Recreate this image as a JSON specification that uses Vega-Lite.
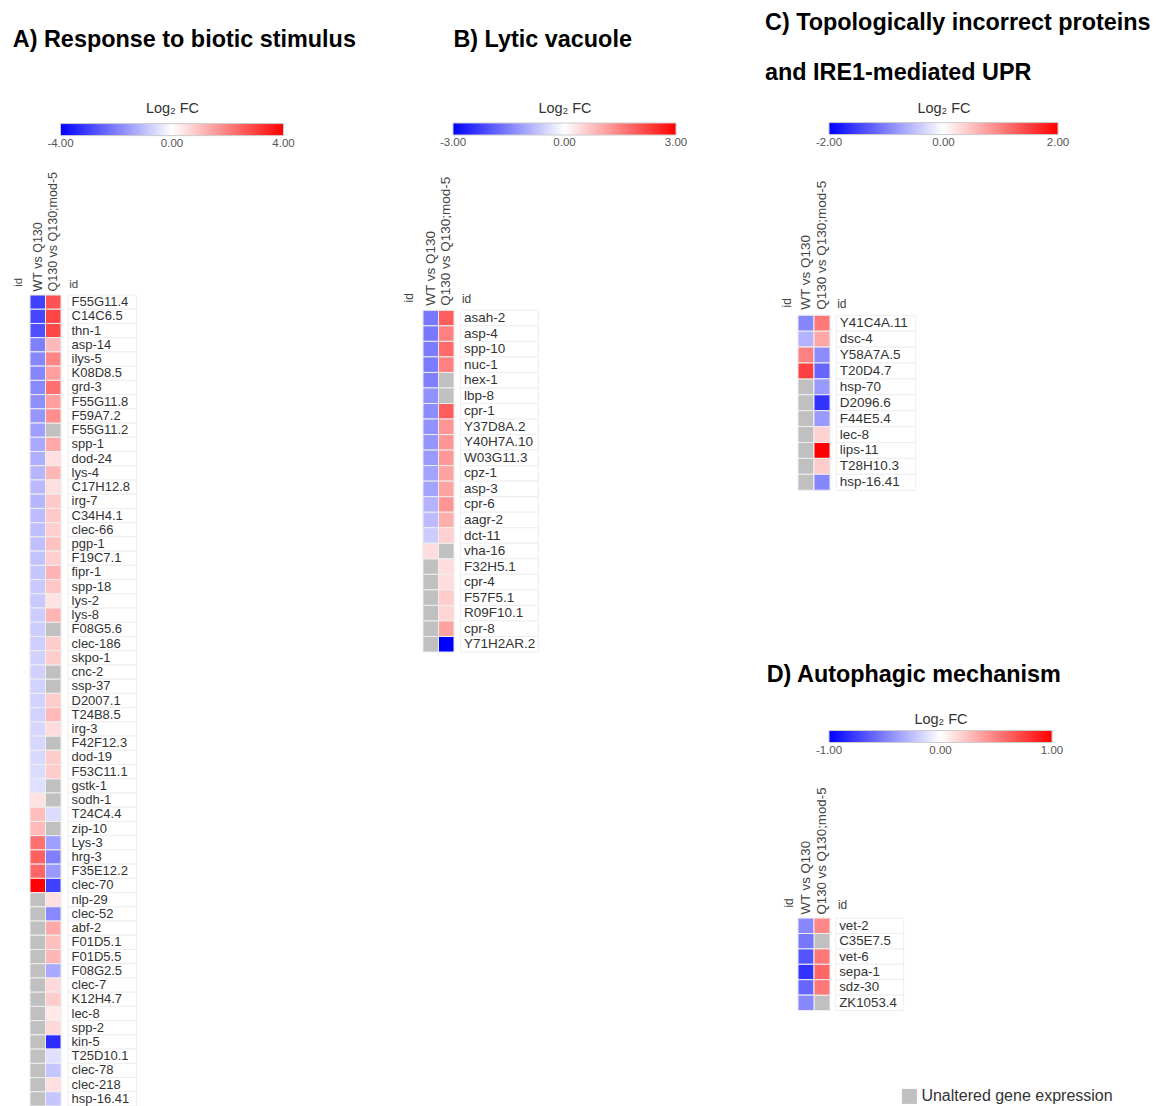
{
  "$schema": "https://vega.github.io/schema/vega-lite/v6.json",
  "background": "white",
  "padding": {"left": 12, "top": 10, "right": 0, "bottom": 0},
  "config": {
    "view": {"stroke": null},
    "font": "Liberation Sans",
    "axis": {"labelFont": "Liberation Sans", "titleFont": "Liberation Sans"},
    "legend": {"labelFont": "Liberation Sans", "titleFont": "Liberation Sans"},
    "title": {"font": "Liberation Sans", "fontWeight": "bold", "fontSize": 23.4, "anchor": "start", "color": "#000000"}
  },
  "datasets": {
    "A": [
      {"id": "F55G11.4", "WT vs Q130": -3.0, "Q130 vs Q130;mod-5": 2.7},
      {"id": "C14C6.5", "WT vs Q130": -2.9, "Q130 vs Q130;mod-5": 2.9},
      {"id": "thn-1", "WT vs Q130": -2.75, "Q130 vs Q130;mod-5": 2.85},
      {"id": "asp-14", "WT vs Q130": -2.0, "Q130 vs Q130;mod-5": 1.1},
      {"id": "ilys-5", "WT vs Q130": -1.9, "Q130 vs Q130;mod-5": 1.9},
      {"id": "K08D8.5", "WT vs Q130": -1.9, "Q130 vs Q130;mod-5": 1.5},
      {"id": "grd-3", "WT vs Q130": -1.85, "Q130 vs Q130;mod-5": 2.25},
      {"id": "F55G11.8", "WT vs Q130": -1.75, "Q130 vs Q130;mod-5": 1.5},
      {"id": "F59A7.2", "WT vs Q130": -1.65, "Q130 vs Q130;mod-5": 1.75},
      {"id": "F55G11.2", "WT vs Q130": -1.5, "Q130 vs Q130;mod-5": null},
      {"id": "spp-1", "WT vs Q130": -1.35, "Q130 vs Q130;mod-5": 1.35},
      {"id": "dod-24", "WT vs Q130": -1.25, "Q130 vs Q130;mod-5": 0.5},
      {"id": "lys-4", "WT vs Q130": -1.15, "Q130 vs Q130;mod-5": 1.15},
      {"id": "C17H12.8", "WT vs Q130": -1.1, "Q130 vs Q130;mod-5": 0.5},
      {"id": "irg-7", "WT vs Q130": -1.15, "Q130 vs Q130;mod-5": 0.85},
      {"id": "C34H4.1", "WT vs Q130": -1.05, "Q130 vs Q130;mod-5": 0.85},
      {"id": "clec-66", "WT vs Q130": -1.0, "Q130 vs Q130;mod-5": 0.75},
      {"id": "pgp-1", "WT vs Q130": -1.0, "Q130 vs Q130;mod-5": 0.95},
      {"id": "F19C7.1", "WT vs Q130": -0.95, "Q130 vs Q130;mod-5": 0.75},
      {"id": "fipr-1", "WT vs Q130": -0.9, "Q130 vs Q130;mod-5": 1.2},
      {"id": "spp-18", "WT vs Q130": -0.85, "Q130 vs Q130;mod-5": 0.9},
      {"id": "lys-2", "WT vs Q130": -0.85, "Q130 vs Q130;mod-5": 0.45},
      {"id": "lys-8", "WT vs Q130": -0.8, "Q130 vs Q130;mod-5": 1.2},
      {"id": "F08G5.6", "WT vs Q130": -0.8, "Q130 vs Q130;mod-5": null},
      {"id": "clec-186", "WT vs Q130": -0.75, "Q130 vs Q130;mod-5": 0.8},
      {"id": "skpo-1", "WT vs Q130": -0.72, "Q130 vs Q130;mod-5": 0.8},
      {"id": "cnc-2", "WT vs Q130": -0.72, "Q130 vs Q130;mod-5": null},
      {"id": "ssp-37", "WT vs Q130": -0.7, "Q130 vs Q130;mod-5": null},
      {"id": "D2007.1", "WT vs Q130": -0.7, "Q130 vs Q130;mod-5": 0.8},
      {"id": "T24B8.5", "WT vs Q130": -0.7, "Q130 vs Q130;mod-5": 1.1},
      {"id": "irg-3", "WT vs Q130": -0.65, "Q130 vs Q130;mod-5": 0.55},
      {"id": "F42F12.3", "WT vs Q130": -0.65, "Q130 vs Q130;mod-5": null},
      {"id": "dod-19", "WT vs Q130": -0.6, "Q130 vs Q130;mod-5": 0.8},
      {"id": "F53C11.1", "WT vs Q130": -0.55, "Q130 vs Q130;mod-5": 0.8},
      {"id": "gstk-1", "WT vs Q130": -0.5, "Q130 vs Q130;mod-5": null},
      {"id": "sodh-1", "WT vs Q130": 0.45, "Q130 vs Q130;mod-5": null},
      {"id": "T24C4.4", "WT vs Q130": 1.05, "Q130 vs Q130;mod-5": -0.55},
      {"id": "zip-10", "WT vs Q130": 1.1, "Q130 vs Q130;mod-5": null},
      {"id": "Lys-3", "WT vs Q130": 2.25, "Q130 vs Q130;mod-5": -1.5},
      {"id": "hrg-3", "WT vs Q130": 2.5, "Q130 vs Q130;mod-5": -2.0},
      {"id": "F35E12.2", "WT vs Q130": 2.4, "Q130 vs Q130;mod-5": -1.6},
      {"id": "clec-70", "WT vs Q130": 4.0, "Q130 vs Q130;mod-5": -3.0},
      {"id": "nlp-29", "WT vs Q130": null, "Q130 vs Q130;mod-5": 0.5},
      {"id": "clec-52", "WT vs Q130": null, "Q130 vs Q130;mod-5": -1.85},
      {"id": "abf-2", "WT vs Q130": null, "Q130 vs Q130;mod-5": 1.35},
      {"id": "F01D5.1", "WT vs Q130": null, "Q130 vs Q130;mod-5": 1.0},
      {"id": "F01D5.5", "WT vs Q130": null, "Q130 vs Q130;mod-5": 1.15},
      {"id": "F08G2.5", "WT vs Q130": null, "Q130 vs Q130;mod-5": -1.35},
      {"id": "clec-7", "WT vs Q130": null, "Q130 vs Q130;mod-5": 0.6},
      {"id": "K12H4.7", "WT vs Q130": null, "Q130 vs Q130;mod-5": 0.8},
      {"id": "lec-8", "WT vs Q130": null, "Q130 vs Q130;mod-5": 0.35},
      {"id": "spp-2", "WT vs Q130": null, "Q130 vs Q130;mod-5": 0.6},
      {"id": "kin-5", "WT vs Q130": null, "Q130 vs Q130;mod-5": -3.3},
      {"id": "T25D10.1", "WT vs Q130": null, "Q130 vs Q130;mod-5": -0.5},
      {"id": "clec-78", "WT vs Q130": null, "Q130 vs Q130;mod-5": -0.9},
      {"id": "clec-218", "WT vs Q130": null, "Q130 vs Q130;mod-5": 0.5},
      {"id": "hsp-16.41", "WT vs Q130": null, "Q130 vs Q130;mod-5": -0.9}
    ],
    "B": [
      {"id": "asah-2", "WT vs Q130": -1.6, "Q130 vs Q130;mod-5": 1.9},
      {"id": "asp-4", "WT vs Q130": -1.6, "Q130 vs Q130;mod-5": 1.5},
      {"id": "spp-10", "WT vs Q130": -1.55, "Q130 vs Q130;mod-5": 1.75},
      {"id": "nuc-1", "WT vs Q130": -1.55, "Q130 vs Q130;mod-5": 1.5},
      {"id": "hex-1", "WT vs Q130": -1.5, "Q130 vs Q130;mod-5": null},
      {"id": "lbp-8", "WT vs Q130": -1.3, "Q130 vs Q130;mod-5": null},
      {"id": "cpr-1", "WT vs Q130": -1.35, "Q130 vs Q130;mod-5": 1.9},
      {"id": "Y37D8A.2", "WT vs Q130": -1.3, "Q130 vs Q130;mod-5": 1.25},
      {"id": "Y40H7A.10", "WT vs Q130": -1.25, "Q130 vs Q130;mod-5": 1.25},
      {"id": "W03G11.3", "WT vs Q130": -1.2, "Q130 vs Q130;mod-5": 1.2},
      {"id": "cpz-1", "WT vs Q130": -1.1, "Q130 vs Q130;mod-5": 1.1},
      {"id": "asp-3", "WT vs Q130": -1.1, "Q130 vs Q130;mod-5": 1.1},
      {"id": "cpr-6", "WT vs Q130": -0.9, "Q130 vs Q130;mod-5": 1.25},
      {"id": "aagr-2", "WT vs Q130": -0.8, "Q130 vs Q130;mod-5": 0.95},
      {"id": "dct-11", "WT vs Q130": -0.6, "Q130 vs Q130;mod-5": 0.55},
      {"id": "vha-16", "WT vs Q130": 0.4, "Q130 vs Q130;mod-5": null},
      {"id": "F32H5.1", "WT vs Q130": null, "Q130 vs Q130;mod-5": 0.4},
      {"id": "cpr-4", "WT vs Q130": null, "Q130 vs Q130;mod-5": 0.4},
      {"id": "F57F5.1", "WT vs Q130": null, "Q130 vs Q130;mod-5": 0.6},
      {"id": "R09F10.1", "WT vs Q130": null, "Q130 vs Q130;mod-5": 0.5},
      {"id": "cpr-8", "WT vs Q130": null, "Q130 vs Q130;mod-5": 1.1},
      {"id": "Y71H2AR.2", "WT vs Q130": null, "Q130 vs Q130;mod-5": -3.0}
    ],
    "C": [
      {"id": "Y41C4A.11", "WT vs Q130": -0.95, "Q130 vs Q130;mod-5": 1.05},
      {"id": "dsc-4", "WT vs Q130": -0.6, "Q130 vs Q130;mod-5": 0.7},
      {"id": "Y58A7A.5", "WT vs Q130": 1.0, "Q130 vs Q130;mod-5": -0.9},
      {"id": "T20D4.7", "WT vs Q130": 1.5, "Q130 vs Q130;mod-5": -1.2},
      {"id": "hsp-70", "WT vs Q130": null, "Q130 vs Q130;mod-5": -0.8},
      {"id": "D2096.6", "WT vs Q130": null, "Q130 vs Q130;mod-5": -1.6},
      {"id": "F44E5.4", "WT vs Q130": null, "Q130 vs Q130;mod-5": -0.8},
      {"id": "lec-8", "WT vs Q130": null, "Q130 vs Q130;mod-5": 0.35},
      {"id": "lips-11", "WT vs Q130": null, "Q130 vs Q130;mod-5": 2.0},
      {"id": "T28H10.3", "WT vs Q130": null, "Q130 vs Q130;mod-5": 0.4},
      {"id": "hsp-16.41", "WT vs Q130": null, "Q130 vs Q130;mod-5": -0.95}
    ],
    "D": [
      {"id": "vet-2", "WT vs Q130": -0.47, "Q130 vs Q130;mod-5": 0.47},
      {"id": "C35E7.5", "WT vs Q130": -0.53, "Q130 vs Q130;mod-5": null},
      {"id": "vet-6", "WT vs Q130": -0.67, "Q130 vs Q130;mod-5": 0.53},
      {"id": "sepa-1", "WT vs Q130": -0.8, "Q130 vs Q130;mod-5": 0.6},
      {"id": "sdz-30", "WT vs Q130": -0.6, "Q130 vs Q130;mod-5": 0.53},
      {"id": "ZK1053.4", "WT vs Q130": -0.47, "Q130 vs Q130;mod-5": null}
    ]
  },
  "spacing": 77,
  "align": "none",
  "resolve": {"scale": {"color": "independent", "fill": "independent"}},
  "hconcat": [
    {
      "spacing": 46,
      "align": "none",
      "resolve": {"scale": {"color": "independent"}},
      "hconcat": [
        {
          "title": {"text": "A) Response to biotic stimulus", "offset": 49.6, "dx": 0},
          "spacing": 7,
          "bounds": "flush",
          "resolve": {"scale": {"color": "independent"}},
          "hconcat": [
            {
              "width": 31, "height": 811,
              "data": {"name": "A"},
              "transform": [{"fold": ["WT vs Q130", "Q130 vs Q130;mod-5"], "as": ["comparison", "fc"]}],
              "encoding": {
                "x": {"field": "comparison", "type": "nominal", "sort": ["WT vs Q130", "Q130 vs Q130;mod-5"], "scale": {"padding": 0},
                  "axis": {"orient": "top", "title": null, "labelAngle": 270, "labelPadding": 4, "labelFontSize": 12.5, "labelColor": "#444444", "domain": false, "ticks": false, "tickSize": 0}},
                "y": {"field": "id", "type": "nominal", "sort": null, "scale": {"padding": 0},
                  "axis": {"labels": false, "ticks": false, "tickSize": 0, "domain": false, "title": "id", "titleAngle": 270, "titleAlign": "left", "titleBaseline": "bottom", "titleX": -6.2, "titleY": -8.7, "titleFontSize": 11.5, "titleFontWeight": "normal", "titleColor": "#444444"}}
              },
              "layer": [
                {"mark": {"type": "rect", "fill": "#c0c0c0", "stroke": "#eeeeee", "strokeWidth": 1}},
                {"transform": [{"filter": "isValid(datum.fc)"}],
                  "mark": {"type": "rect", "stroke": "#eeeeee", "strokeWidth": 1},
                  "encoding": {"color": {"field": "fc", "type": "quantitative",
                    "scale": {"domain": [-4, 0, 4], "range": ["#0000ff", "#ffffff", "#ff0000"], "interpolate": "rgb"},
                    "legend": {"orient": "none", "legendX": 30.5, "legendY": -193.5, "direction": "horizontal", "padding": 0, "gradientLength": 223, "gradientThickness": 12, "gradientStrokeColor": "#cccccc", "gradientStrokeWidth": 1, "title": "Log₂ FC", "titleFontSize": 14.5, "titleFontWeight": "normal", "titleColor": "#333333", "titleAnchor": "middle", "titlePadding": 7.6, "values": [-4, 0, 4], "labelExpr": "replace(format(datum.value, '.2f'), '\u2212', '-')", "labelFontSize": 11.5, "labelColor": "#555555", "labelAlign": "center", "labelOffset": 2, "labelOverlap": false,
                      "encode": {"labels": {"update": {"align": {"value": "center"}}}}}}}}
              ]
            },
            {
              "width": 68.5, "height": 811,
              "data": {"name": "A"},
              "mark": {"type": "rect", "fill": "#ffffff", "stroke": "#eeeeee", "strokeWidth": 1},
              "encoding": {
                "y": {"field": "id", "type": "nominal", "sort": null, "scale": {"padding": 0},
                  "axis": {"orient": "left", "zindex": 1, "labelAlign": "left", "labelPadding": -3, "tickSize": 0, "ticks": false, "domain": false, "labelFontSize": 13, "labelColor": "#333333", "title": "id", "titleAngle": 0, "titleAlign": "left", "titleBaseline": "alphabetic", "titleX": 0.8, "titleY": -7.4, "titleFontSize": 11.5, "titleFontWeight": "normal", "titleColor": "#444444"}}
              }
            }
          ]
        },
        {
          "title": {"text": "B) Lytic vacuole", "offset": 49.6, "dx": 51},
          "spacing": 6.4,
          "bounds": "flush",
          "resolve": {"scale": {"color": "independent"}},
          "hconcat": [
            {
              "width": 31, "height": 372.3,
              "data": {"name": "B"},
              "transform": [{"fold": ["WT vs Q130", "Q130 vs Q130;mod-5"], "as": ["comparison", "fc"]}],
              "encoding": {
                "x": {"field": "comparison", "type": "nominal", "sort": ["WT vs Q130", "Q130 vs Q130;mod-5"], "scale": {"padding": 0},
                  "axis": {"orient": "top", "offset": -15.3, "title": null, "labelAngle": 270, "labelPadding": 5, "labelFontSize": 13.5, "labelColor": "#444444", "domain": false, "ticks": false, "tickSize": 0}},
                "y": {"field": "id", "type": "nominal", "sort": null, "scale": {"paddingInner": 0, "paddingOuter": 0.985},
                  "axis": {"labels": false, "ticks": false, "tickSize": 0, "domain": false, "title": "id", "titleAngle": 270, "titleAlign": "left", "titleBaseline": "bottom", "titleX": -7.6, "titleY": 7, "titleFontSize": 12, "titleFontWeight": "normal", "titleColor": "#444444"}}
              },
              "layer": [
                {"mark": {"type": "rect", "fill": "#c0c0c0", "stroke": "#eeeeee", "strokeWidth": 1}},
                {"transform": [{"filter": "isValid(datum.fc)"}],
                  "mark": {"type": "rect", "stroke": "#eeeeee", "strokeWidth": 1},
                  "encoding": {"color": {"field": "fc", "type": "quantitative",
                    "scale": {"domain": [-3, 0, 3], "range": ["#0000ff", "#ffffff", "#ff0000"], "interpolate": "rgb"},
                    "legend": {"orient": "none", "legendX": 30, "legendY": -193.5, "direction": "horizontal", "padding": 0, "gradientLength": 223, "gradientThickness": 12, "gradientStrokeColor": "#cccccc", "gradientStrokeWidth": 1, "title": "Log₂ FC", "titleFontSize": 14.5, "titleFontWeight": "normal", "titleColor": "#333333", "titleAnchor": "middle", "titlePadding": 7, "values": [-3, 0, 3], "labelExpr": "replace(format(datum.value, '.2f'), '\u2212', '-')", "labelFontSize": 11.5, "labelColor": "#555555", "labelAlign": "center", "labelOffset": 2, "labelOverlap": false,
                      "encode": {"labels": {"update": {"align": {"value": "center"}}}}}}}}
              ]
            },
            {
              "width": 78, "height": 372.3,
              "data": {"name": "B"},
              "mark": {"type": "rect", "fill": "#ffffff", "stroke": "#eeeeee", "strokeWidth": 1},
              "encoding": {
                "y": {"field": "id", "type": "nominal", "sort": null, "scale": {"paddingInner": 0, "paddingOuter": 0.985},
                  "axis": {"orient": "left", "zindex": 1, "labelAlign": "left", "labelPadding": -3, "tickSize": 0, "ticks": false, "domain": false, "labelFontSize": 13.5, "labelColor": "#333333", "title": "id", "titleAngle": 0, "titleAlign": "left", "titleBaseline": "alphabetic", "titleX": 1, "titleY": 7, "titleFontSize": 12, "titleFontWeight": "normal", "titleColor": "#444444"}}
              }
            }
          ]
        }
      ]
    },
    {
      "spacing": 160.1,
      "align": "none",
      "resolve": {"scale": {"color": "independent", "fill": "independent"}},
      "vconcat": [
        {
          "title": {"text": ["C) Topologically incorrect proteins", "and IRE1-mediated UPR"], "lineHeight": 50, "offset": 16.3, "dx": -15.3},
          "spacing": 6.3,
          "bounds": "flush",
          "resolve": {"scale": {"color": "independent"}},
          "hconcat": [
            {
              "width": 32, "height": 206.7,
              "data": {"name": "C"},
              "transform": [{"fold": ["WT vs Q130", "Q130 vs Q130;mod-5"], "as": ["comparison", "fc"]}],
              "encoding": {
                "x": {"field": "comparison", "type": "nominal", "sort": ["WT vs Q130", "Q130 vs Q130;mod-5"], "scale": {"padding": 0},
                  "axis": {"orient": "top", "offset": -20.3, "title": null, "labelAngle": 270, "labelPadding": 6, "labelFontSize": 13.5, "labelColor": "#444444", "domain": false, "ticks": false, "tickSize": 0}},
                "y": {"field": "id", "type": "nominal", "sort": null, "scale": {"paddingInner": 0, "paddingOuter": 1, "align": 0.638},
                  "axis": {"labels": false, "ticks": false, "tickSize": 0, "domain": false, "title": "id", "titleAngle": 270, "titleAlign": "left", "titleBaseline": "bottom", "titleX": -4.7, "titleY": 12, "titleFontSize": 12, "titleFontWeight": "normal", "titleColor": "#444444"}}
              },
              "layer": [
                {"mark": {"type": "rect", "fill": "#c0c0c0", "stroke": "#eeeeee", "strokeWidth": 1}},
                {"transform": [{"filter": "isValid(datum.fc)"}],
                  "mark": {"type": "rect", "stroke": "#eeeeee", "strokeWidth": 1},
                  "encoding": {"color": {"field": "fc", "type": "quantitative",
                    "scale": {"domain": [-2, 0, 2], "range": ["#0000ff", "#ffffff", "#ff0000"], "interpolate": "rgb"},
                    "legend": {"orient": "none", "legendX": 31, "legendY": -193.5, "direction": "horizontal", "padding": 0, "gradientLength": 229, "gradientThickness": 12, "gradientStrokeColor": "#cccccc", "gradientStrokeWidth": 1, "title": "Log₂ FC", "titleFontSize": 14.5, "titleFontWeight": "normal", "titleColor": "#333333", "titleAnchor": "middle", "titlePadding": 6.6, "values": [-2, 0, 2], "labelExpr": "replace(format(datum.value, '.2f'), '\u2212', '-')", "labelFontSize": 11.5, "labelColor": "#555555", "labelAlign": "center", "labelOffset": 2, "labelOverlap": false,
                      "encode": {"labels": {"update": {"align": {"value": "center"}}}}}}}}
              ]
            },
            {
              "width": 79.4, "height": 206.7,
              "data": {"name": "C"},
              "mark": {"type": "rect", "fill": "#ffffff", "stroke": "#eeeeee", "strokeWidth": 1},
              "encoding": {
                "y": {"field": "id", "type": "nominal", "sort": null, "scale": {"paddingInner": 0, "paddingOuter": 1, "align": 0.638},
                  "axis": {"orient": "left", "zindex": 1, "labelAlign": "left", "labelPadding": -3, "tickSize": 0, "ticks": false, "domain": false, "labelFontSize": 13.5, "labelColor": "#333333", "title": "id", "titleAngle": 0, "titleAlign": "left", "titleBaseline": "alphabetic", "titleX": 0.4, "titleY": 12, "titleFontSize": 12, "titleFontWeight": "normal", "titleColor": "#444444"}}
              }
            }
          ]
        },
        {
          "title": {"text": "D) Autophagic mechanism", "offset": 26.3, "dx": -15.3},
          "spacing": 5.7,
          "bounds": "flush",
          "resolve": {"scale": {"color": "independent", "fill": "independent"}},
          "hconcat": [
            {
              "width": 32, "height": 92.4,
              "data": {"name": "D"},
              "transform": [{"fold": ["WT vs Q130", "Q130 vs Q130;mod-5"], "as": ["comparison", "fc"]}],
              "encoding": {
                "x": {"field": "comparison", "type": "nominal", "sort": ["WT vs Q130", "Q130 vs Q130;mod-5"], "scale": {"padding": 0},
                  "axis": {"orient": "top", "title": null, "labelAngle": 270, "labelPadding": 4, "labelFontSize": 13.3, "labelColor": "#444444", "domain": false, "ticks": false, "tickSize": 0}},
                "y": {"field": "id", "type": "nominal", "sort": null, "scale": {"padding": 0},
                  "axis": {"labels": false, "ticks": false, "tickSize": 0, "domain": false, "title": "id", "titleAngle": 270, "titleAlign": "left", "titleBaseline": "bottom", "titleX": -3, "titleY": -11, "titleFontSize": 12, "titleFontWeight": "normal", "titleColor": "#444444"}}
              },
              "layer": [
                {"mark": {"type": "rect", "stroke": "#eeeeee", "strokeWidth": 1},
                  "encoding": {"fill": {"datum": "Unaltered gene expression", "type": "nominal", "scale": {"range": ["#c0c0c0"]},
                    "legend": {"orient": "none", "legendX": 103.4, "legendY": 170.3, "title": null, "padding": 0, "symbolType": "square", "symbolSize": 225, "symbolStrokeWidth": 0, "labelFontSize": 16, "labelColor": "#333333", "labelOffset": 4, "labelLimit": 400}}}},
                {"transform": [{"filter": "isValid(datum.fc)"}],
                  "mark": {"type": "rect", "stroke": "#eeeeee", "strokeWidth": 1},
                  "encoding": {"color": {"field": "fc", "type": "quantitative",
                    "scale": {"domain": [-1, 0, 1], "range": ["#0000ff", "#ffffff", "#ff0000"], "interpolate": "rgb"},
                    "legend": {"orient": "none", "legendX": 31, "legendY": -204.8, "direction": "horizontal", "padding": 0, "gradientLength": 223, "gradientThickness": 12, "gradientStrokeColor": "#cccccc", "gradientStrokeWidth": 1, "title": "Log₂ FC", "titleFontSize": 14.5, "titleFontWeight": "normal", "titleColor": "#333333", "titleAnchor": "middle", "titlePadding": 2.7, "values": [-1, 0, 1], "labelExpr": "replace(format(datum.value, '.2f'), '\u2212', '-')", "labelFontSize": 11.5, "labelColor": "#555555", "labelAlign": "center", "labelOffset": 2, "labelOverlap": false,
                      "encode": {"labels": {"update": {"align": {"value": "center"}}}}}}}}
              ]
            },
            {
              "width": 68, "height": 92.4,
              "data": {"name": "D"},
              "mark": {"type": "rect", "fill": "#ffffff", "stroke": "#eeeeee", "strokeWidth": 1},
              "encoding": {
                "y": {"field": "id", "type": "nominal", "sort": null, "scale": {"padding": 0},
                  "axis": {"orient": "left", "zindex": 1, "labelAlign": "left", "labelPadding": -3, "tickSize": 0, "ticks": false, "domain": false, "labelFontSize": 13.3, "labelColor": "#333333", "title": "id", "titleAngle": 0, "titleAlign": "left", "titleBaseline": "alphabetic", "titleX": 1.7, "titleY": -9.3, "titleFontSize": 12, "titleFontWeight": "normal", "titleColor": "#444444"}}
              }
            }
          ]
        }
      ]
    }
  ]
}
